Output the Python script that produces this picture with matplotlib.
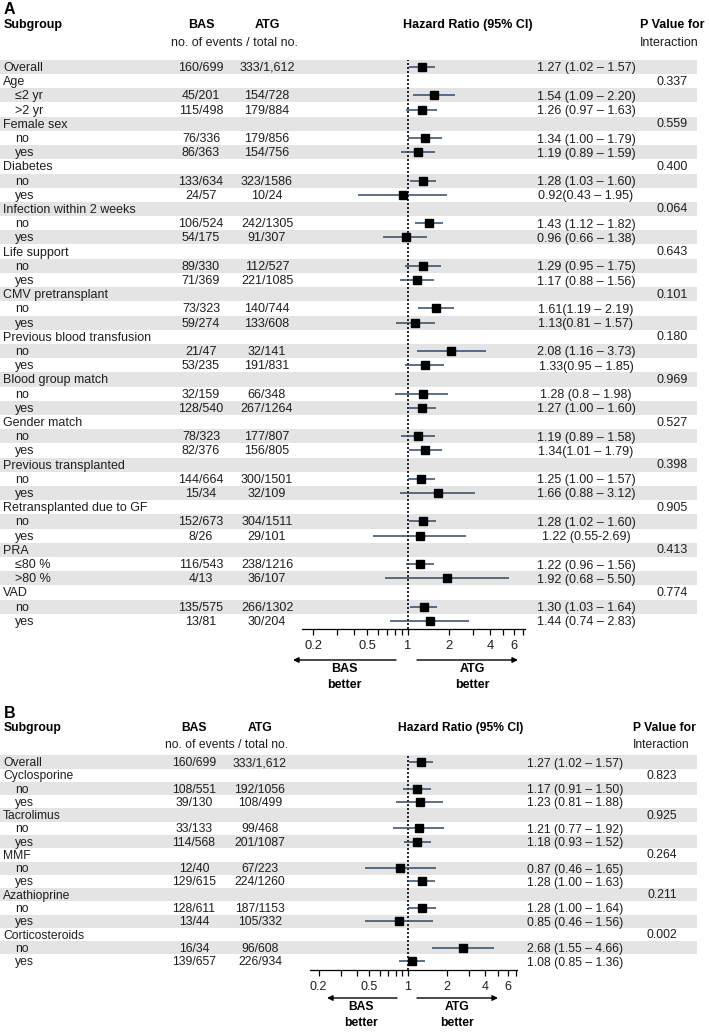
import numpy as np
import matplotlib.pyplot as plt
from matplotlib.ticker import FixedLocator, NullFormatter

plt.rcParams['font.family'] = ['Liberation Sans', 'DejaVu Sans']

nan = np.nan

# ---- panel A data ----
labels_a = ['Overall', 'Age', '≤2 yr', '>2 yr', 'Female sex', 'no', 'yes',
            'Diabetes', 'no', 'yes', 'Infection within 2 weeks', 'no', 'yes',
            'Life support', 'no', 'yes', 'CMV pretransplant', 'no', 'yes',
            'Previous blood transfusion', 'no', 'yes', 'Blood group match', 'no', 'yes',
            'Gender match', 'no', 'yes', 'Previous transplanted', 'no', 'yes',
            'Retransplanted due to GF', 'no', 'yes', 'PRA', '≤80 %', '>80 %',
            'VAD', 'no', 'yes']
bas_a = ['160/699', '', '45/201', '115/498', '', '76/336', '86/363',
         '', '133/634', '24/57', '', '106/524', '54/175',
         '', '89/330', '71/369', '', '73/323', '59/274',
         '', '21/47', '53/235', '', '32/159', '128/540',
         '', '78/323', '82/376', '', '144/664', '15/34',
         '', '152/673', '8/26', '', '116/543', '4/13',
         '', '135/575', '13/81']
atg_a = ['333/1,612', '', '154/728', '179/884', '', '179/856', '154/756',
         '', '323/1586', '10/24', '', '242/1305', '91/307',
         '', '112/527', '221/1085', '', '140/744', '133/608',
         '', '32/141', '191/831', '', '66/348', '267/1264',
         '', '177/807', '156/805', '', '300/1501', '32/109',
         '', '304/1511', '29/101', '', '238/1216', '36/107',
         '', '266/1302', '30/204']
hr_a = [1.27, nan, 1.54, 1.26, nan, 1.34, 1.19, nan, 1.28, 0.92, nan, 1.43, 0.96,
        nan, 1.29, 1.17, nan, 1.61, 1.13, nan, 2.08, 1.33, nan, 1.28, 1.27,
        nan, 1.19, 1.34, nan, 1.25, 1.66, nan, 1.28, 1.22, nan, 1.22, 1.92,
        nan, 1.30, 1.44]
lo_a = [1.02, nan, 1.09, 0.97, nan, 1.00, 0.89, nan, 1.03, 0.43, nan, 1.12, 0.66,
        nan, 0.95, 0.88, nan, 1.19, 0.81, nan, 1.16, 0.95, nan, 0.8, 1.00,
        nan, 0.89, 1.01, nan, 1.00, 0.88, nan, 1.02, 0.55, nan, 0.96, 0.68,
        nan, 1.03, 0.74]
hi_a = [1.57, nan, 2.20, 1.63, nan, 1.79, 1.59, nan, 1.60, 1.95, nan, 1.82, 1.38,
        nan, 1.75, 1.56, nan, 2.19, 1.57, nan, 3.73, 1.85, nan, 1.98, 1.60,
        nan, 1.58, 1.79, nan, 1.57, 3.12, nan, 1.60, 2.69, nan, 1.56, 5.50,
        nan, 1.64, 2.83]
hrtxt_a = ['1.27 (1.02 – 1.57)', '', '1.54 (1.09 – 2.20)', '1.26 (0.97 – 1.63)', '',
           '1.34 (1.00 – 1.79)', '1.19 (0.89 – 1.59)', '', '1.28 (1.03 – 1.60)',
           '0.92(0.43 – 1.95)', '', '1.43 (1.12 – 1.82)', '0.96 (0.66 – 1.38)', '',
           '1.29 (0.95 – 1.75)', '1.17 (0.88 – 1.56)', '', '1.61(1.19 – 2.19)',
           '1.13(0.81 – 1.57)', '', '2.08 (1.16 – 3.73)', '1.33(0.95 – 1.85)', '',
           '1.28 (0.8 – 1.98)', '1.27 (1.00 – 1.60)', '', '1.19 (0.89 – 1.58)',
           '1.34(1.01 – 1.79)', '', '1.25 (1.00 – 1.57)', '1.66 (0.88 – 3.12)', '',
           '1.28 (1.02 – 1.60)', '1.22 (0.55-2.69)', '', '1.22 (0.96 – 1.56)',
           '1.92 (0.68 – 5.50)', '', '1.30 (1.03 – 1.64)', '1.44 (0.74 – 2.83)']
p_a = ['', '0.337', '', '', '0.559', '', '', '0.400', '', '', '0.064', '', '',
       '0.643', '', '', '0.101', '', '', '0.180', '', '', '0.969', '', '',
       '0.527', '', '', '0.398', '', '', '0.905', '', '', '0.413', '', '',
       '0.774', '', '']

# ---- panel B data ----
labels_b = ['Overall', 'Cyclosporine', 'no', 'yes', 'Tacrolimus', 'no', 'yes',
            'MMF', 'no', 'yes', 'Azathioprine', 'no', 'yes', 'Corticosteroids', 'no', 'yes']
bas_b = ['160/699', '', '108/551', '39/130', '', '33/133', '114/568',
         '', '12/40', '129/615', '', '128/611', '13/44', '', '16/34', '139/657']
atg_b = ['333/1,612', '', '192/1056', '108/499', '', '99/468', '201/1087',
         '', '67/223', '224/1260', '', '187/1153', '105/332', '', '96/608', '226/934']
hr_b = [1.27, nan, 1.17, 1.23, nan, 1.21, 1.18, nan, 0.87, 1.28, nan, 1.28, 0.85, nan, 2.68, 1.08]
lo_b = [1.02, nan, 0.91, 0.81, nan, 0.77, 0.93, nan, 0.46, 1.00, nan, 1.00, 0.46, nan, 1.55, 0.85]
hi_b = [1.57, nan, 1.50, 1.88, nan, 1.92, 1.52, nan, 1.65, 1.63, nan, 1.64, 1.56, nan, 4.66, 1.36]
hrtxt_b = ['1.27 (1.02 – 1.57)', '', '1.17 (0.91 – 1.50)', '1.23 (0.81 – 1.88)', '',
           '1.21 (0.77 – 1.92)', '1.18 (0.93 – 1.52)', '', '0.87 (0.46 – 1.65)',
           '1.28 (1.00 – 1.63)', '', '1.28 (1.00 – 1.64)', '0.85 (0.46 – 1.56)', '',
           '2.68 (1.55 – 4.66)', '1.08 (0.85 – 1.36)']
p_b = ['', '0.823', '', '', '0.925', '', '', '0.264', '', '', '0.211', '', '',
       '0.002', '', '']

tick_major = [0.2, 0.5, 1, 2, 4, 6]
tick_minor = [0.3, 0.4, 0.6, 0.7, 0.8, 0.9, 3, 5, 7]

W, H = 709, 1032
TXT = '#1e1e1e'
SHADE = '#e4e4e4'
CI = '#2d4a68'


def panel(fig, bg, letter, labels, bas, atg, hr, lo, hi, hrtxt, pv, lay):
    fs = lay['fs']
    y0, step = lay['y0'], lay['step']
    # headers
    bg.text(4, lay['ly'], letter, fontsize=11.5, fontweight='bold', color='black', va='center')
    bg.text(4, lay['hy'], 'Subgroup', fontsize=fs, fontweight='bold', color='black', va='center')
    bg.text(lay['xb'], lay['hy'], 'BAS', fontsize=fs, fontweight='bold', ha='center', va='center')
    bg.text(lay['xa'], lay['hy'], 'ATG', fontsize=fs, fontweight='bold', ha='center', va='center')
    bg.text((lay['xb'] + lay['xa']) / 2, lay['sy'], 'no. of events / total no.', fontsize=fs,
            color=TXT, ha='center', va='center')
    bg.text(lay['xh'], lay['hy'], 'Hazard Ratio (95% CI)', fontsize=fs, fontweight='bold',
            ha='center', va='center')
    bg.text(lay['xph'], lay['hy'], 'P Value for', fontsize=fs, fontweight='bold', ha='center', va='center')
    bg.text(lay['xph'] - 3, lay['sy'], 'Interaction', fontsize=fs, color=TXT, ha='center', va='center')

    # rows
    for i, lab in enumerate(labels):
        y = y0 + i * step
        if i % 2 == 0:
            bg.axhspan(y - step / 2, y + step / 2, xmin=0, xmax=697 / W, color=SHADE, lw=0, zorder=0)
        sub = bas[i] != '' and i > 0
        bg.text(15 if sub else 3, y + 1, lab, fontsize=fs, color=TXT, va='center')
        bg.text(lay['xb'], y + 1, bas[i], fontsize=fs, color=TXT, ha='center', va='center')
        bg.text(lay['xa'], y + 1, atg[i], fontsize=fs, color=TXT, ha='center', va='center')
        bg.text(lay['xh2'], y + 1.5, hrtxt[i], fontsize=fs, color=TXT, ha='center', va='center')
        bg.text(lay['xp'], y + 0.5, pv[i], fontsize=fs, color=TXT, ha='center', va='center')

    # forest axes
    n = len(labels)
    top = y0 - step / 2
    ax = fig.add_axes([lay['x0'] / W, 1 - lay['axy'] / H, (lay['x1'] - lay['x0']) / W,
                       (lay['axy'] - top) / H])
    ax.set_facecolor('none')
    rows = np.arange(n)
    hr = np.array(hr)
    lo = np.array(lo)
    hi = np.array(hi)
    ax.hlines(rows, lo, hi, color=CI, lw=1.1, zorder=2)
    ax.plot(hr, rows, 's', color='black', ms=6, zorder=3)
    ax.axvline(1, color='black', lw=1.2, ls=(0, (1.2, 1.2)), zorder=1)
    ax.set_xscale('log')
    ax.set_xlim(lay['xlim'])
    ax.set_ylim((lay['axy'] - y0) / step, -0.5)
    ax.xaxis.set_major_locator(FixedLocator(tick_major))
    ax.xaxis.set_minor_locator(FixedLocator(tick_minor))
    ax.xaxis.set_minor_formatter(NullFormatter())
    ax.set_xticklabels(['0.2', '0.5', '1', '2', '4', '6'])
    ax.tick_params(axis='x', which='both', length=4, width=0.9, labelsize=fs + 0.3,
                   pad=4, labelcolor=TXT)
    ax.set_yticks([])
    for s in ['top', 'left', 'right']:
        ax.spines[s].set_visible(False)
    ax.spines['bottom'].set_linewidth(0.9)

    # direction arrows
    ay = lay['ary']
    bg.annotate('', xy=(lay['bas_arrow'][1], ay), xytext=(lay['bas_arrow'][0], ay),
                arrowprops=dict(arrowstyle='-|>', color='black', lw=1, mutation_scale=8, shrinkA=0, shrinkB=0))
    bg.annotate('', xy=(lay['atg_arrow'][1], ay), xytext=(lay['atg_arrow'][0], ay),
                arrowprops=dict(arrowstyle='-|>', color='black', lw=1, mutation_scale=8, shrinkA=0, shrinkB=0))
    bg.text(lay['bas_txt'], ay + 9, 'BAS', fontsize=fs, fontweight='bold', ha='center', va='center')
    bg.text(lay['bas_txt'], ay + 25, 'better', fontsize=fs, fontweight='bold', ha='center', va='center')
    bg.text(lay['atg_txt'], ay + 9, 'ATG', fontsize=fs, fontweight='bold', ha='center', va='center')
    bg.text(lay['atg_txt'], ay + 25, 'better', fontsize=fs, fontweight='bold', ha='center', va='center')


def main():
    fig = plt.figure(figsize=(W / 100, H / 100), dpi=100)
    bg = fig.add_axes([0, 0, 1, 1])
    bg.set_xlim(0, W)
    bg.set_ylim(H, 0)
    bg.axis('off')

    lay_a = dict(fs=9, y0=67, step=14.2, ly=9, hy=25, sy=43, xb=201, xa=267, xh=468, xh2=586,
                 xp=672, xph=672, x0=302, x1=525, axy=629, xlim=(0.166, 7.25), ary=660,
                 bas_arrow=(396, 293), atg_arrow=(417, 518), bas_txt=344, atg_txt=472)
    lay_b = dict(fs=8.7, y0=762, step=13.27, ly=713, hy=728, sy=745, xb=194, xa=260, xh=461, xh2=575,
                 xp=662, xph=664, x0=310, x1=517, axy=970, xlim=(0.1715, 7.1), ary=998,
                 bas_arrow=(397, 327), atg_arrow=(417, 498), bas_txt=361, atg_txt=457)

    panel(fig, bg, 'A', labels_a, bas_a, atg_a, hr_a, lo_a, hi_a, hrtxt_a, p_a, lay_a)
    panel(fig, bg, 'B', labels_b, bas_b, atg_b, hr_b, lo_b, hi_b, hrtxt_b, p_b, lay_b)

    fig.savefig('out.png', dpi=100)


if __name__ == '__main__':
    main()
